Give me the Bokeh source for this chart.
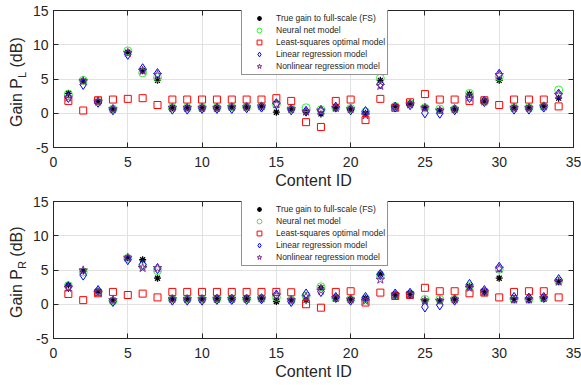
from bokeh.plotting import figure
from bokeh.models import Range1d, FixedTicker, LinearAxis, Legend, LegendItem, Div
from bokeh.layouts import column, row
from bokeh.embed import file_html
from bokeh.resources import INLINE

content_id = list(range(1, 35))
x_ticks = [0, 5, 10, 15, 20, 25, 30, 35]
y_ticks = [-5, 0, 5, 10, 15]
y_tick_labels = {-5: "-5", 0: "0", 5: "5", 10: "10", 15: "15"}

series_names = [
    "True gain to full-scale (FS)",
    "Neural net model",
    "Least-squares optimal model",
    "Linear regression model",
    "Nonlinear regression model",
]

# ---- Gain P_L (top) ----
true_L = [2.9, 4.7, 1.7, 0.6, 8.9, 6.2, 4.8, 0.8, 0.8, 0.8, 0.8, 0.9, 0.9, 1.0, 0.15, 0.6, 0.15,
          -0.1, 0.8, 0.6, 0.0, 4.8, 1.0, 1.35, 0.8, 0.4, 0.6, 2.8, 1.8, 4.8, 0.8, 0.8, 1.0, 2.2]
neural_L = [2.8, 4.8, 1.8, 0.6, 9.1, 5.9, 5.2, 0.8, 0.8, 0.8, 0.8, 0.9, 0.9, 1.0, 1.3, 0.7, 0.8,
            0.5, 0.8, 0.7, 0.2, 5.1, 1.0, 1.4, 0.8, 0.6, 0.6, 2.9, 1.8, 5.3, 0.8, 0.8, 1.0, 3.4]
ls_L = [1.8, 0.4, 1.9, 2.0, 2.1, 2.2, 1.2, 2.0, 2.0, 2.0, 2.0, 2.0, 2.0, 2.0, 2.2, 1.8, -1.3,
        -2.0, 1.8, 2.0, -1.0, 2.1, 0.8, 1.6, 2.8, 2.0, 2.0, 1.8, 1.9, 1.2, 2.0, 2.0, 2.0, 1.0]
lin_L = [2.3, 4.2, 1.6, 0.5, 8.6, 6.5, 5.8, 0.6, 0.6, 0.7, 0.7, 0.7, 0.8, 0.9, 1.4, 0.5, 0.3,
         0.4, 0.9, 0.5, 0.25, 4.3, 0.9, 1.25, 0.05, 0.0, 0.5, 2.3, 1.7, 5.7, 0.6, 0.6, 0.9, 2.8]
nonlin_L = [2.3, 4.7, 1.7, 0.6, 8.8, 6.2, 5.6, 0.8, 0.8, 0.8, 0.8, 0.9, 0.9, 1.0, 1.3, 0.6, 0.25,
            0.4, 0.8, 0.6, -0.3, 4.0, 0.9, 1.3, 0.8, 0.4, 0.6, 2.3, 1.7, 5.6, 0.8, 0.8, 1.0, 2.7]

# ---- Gain P_R (bottom) ----
true_R = [2.8, 4.85, 1.9, 0.6, 6.8, 6.5, 3.8, 0.75, 0.75, 0.75, 0.8, 0.8, 0.8, 0.85, 0.4, 0.6, 0.6,
          2.4, 0.9, 0.7, 0.9, 4.4, 1.35, 1.45, 0.5, 0.5, 0.7, 2.6, 1.8, 3.8, 0.7, 0.7, 0.9, 3.3]
neural_R = [2.7, 4.7, 1.8, 0.5, 6.7, 5.6, 4.9, 0.75, 0.75, 0.75, 0.8, 0.8, 0.8, 0.85, 1.0, 0.6, 1.2,
            2.55, 0.9, 0.7, 0.8, 4.2, 1.35, 1.5, 0.7, 0.7, 0.7, 2.6, 1.8, 5.1, 0.7, 0.7, 0.9, 3.4]
ls_R = [1.5, 0.6, 1.6, 1.8, 1.35, 1.55, 1.0, 1.8, 1.8, 1.8, 1.8, 1.8, 1.8, 1.8, 1.8, 1.75, 0.0,
        -0.5, 1.8, 1.9, 0.25, 1.7, 1.2, 1.35, 2.4, 1.9, 1.9, 1.6, 1.7, 1.0, 1.8, 1.9, 1.9, 1.0]
lin_R = [2.55, 4.25, 2.0, 0.4, 6.5, 5.8, 5.2, 0.6, 0.6, 0.6, 0.7, 0.7, 0.7, 0.8, 1.35, 0.4, 1.5,
         1.85, 1.0, 0.6, 1.0, 4.35, 1.5, 1.6, -0.4, -0.1, 0.6, 2.9, 2.0, 5.4, 1.0, 0.9, 1.0, 3.6]
nonlin_R = [2.4, 4.95, 1.7, 0.6, 6.8, 5.3, 5.3, 0.75, 0.75, 0.75, 0.8, 0.8, 0.8, 0.85, 1.3, 0.6, 1.1,
            2.0, 0.9, 0.7, 0.5, 3.6, 1.35, 1.45, 0.5, 0.5, 0.7, 2.4, 1.8, 5.2, 0.7, 0.7, 0.9, 3.3]

AX = "#262626"
FONT = "Liberation Sans"
LABEL_W = 28


def style_axis(ax, show_labels=True):
    ax.axis_line_color = AX
    ax.major_tick_line_color = AX
    ax.major_tick_in = 5
    ax.major_tick_out = 0
    ax.minor_tick_line_color = None
    ax.major_label_text_color = AX
    ax.major_label_text_font = FONT
    ax.major_label_text_font_size = "14px" if show_labels else "0px"


def make_ylabel(height, top_border, sub):
    # rotated y-axis title "Gain P_sub (dB)" in a narrow strip left of the plot
    start = top_border + 117
    html = (
        f'<div style="position:absolute; left:8.5px; top:{start}px; '
        f'transform:rotate(-90deg); transform-origin:left top; white-space:nowrap; '
        f'font-family:\'{FONT}\'; font-size:16px; line-height:16px; color:{AX};">'
        f'Gain P<span style="font-size:11px; position:relative; top:4px;">{sub}</span> (dB)</div>'
    )
    return Div(text=html, width=LABEL_W, height=height, margin=0,
               styles={"overflow": "visible", "position": "relative"})


def make_panel(height, top_border, bottom_border, series):
    p = figure(width=581 - LABEL_W, height=height, x_range=Range1d(0, 35), y_range=Range1d(-5, 15),
               output_backend="svg", toolbar_location=None,
               min_border_left=53 - LABEL_W, min_border_right=8,
               min_border_top=top_border, min_border_bottom=bottom_border)
    p.background_fill_color = "white"
    p.border_fill_color = "white"
    p.outline_line_color = AX
    p.outline_line_width = 1

    p.xaxis.ticker = FixedTicker(ticks=x_ticks)
    p.yaxis.ticker = FixedTicker(ticks=y_ticks)
    p.yaxis.major_label_overrides = y_tick_labels
    for ax in p.xaxis + p.yaxis:
        style_axis(ax)
    p.xaxis.major_label_standoff = 9
    p.yaxis.major_label_standoff = 5
    p.xaxis.axis_label = "Content ID"
    p.xaxis.axis_label_text_font = FONT
    p.xaxis.axis_label_text_font_size = "16px"
    p.xaxis.axis_label_text_font_style = "normal"
    p.xaxis.axis_label_text_color = AX
    p.xaxis.axis_label_standoff = 2

    ax_r = LinearAxis(ticker=FixedTicker(ticks=y_ticks),
                      major_label_overrides={t: "" for t in y_ticks}, major_label_standoff=0)
    style_axis(ax_r, False)
    p.add_layout(ax_r, "right")
    ax_t = LinearAxis(ticker=FixedTicker(ticks=x_ticks),
                      major_label_overrides={t: "" for t in x_ticks}, major_label_standoff=0)
    style_axis(ax_t, False)
    p.add_layout(ax_t, "above")

    p.grid.grid_line_color = "#e2e2e2"
    p.grid.grid_line_width = 1
    p.xgrid.ticker = FixedTicker(ticks=x_ticks)
    p.ygrid.ticker = FixedTicker(ticks=y_ticks)

    t, nn, ls, lin, nl = series
    r1 = p.scatter(content_id, t, marker="asterisk", size=7, line_color="black", line_width=1.3)
    r2 = p.scatter(content_id, nn, marker="circle", size=8, fill_color=None,
                   line_color="#22ee22", line_width=0.9)
    r3 = p.scatter(content_id, ls, marker="square", size=7, fill_color=None,
                   line_color="#ff0000", line_width=1)
    r4 = p.scatter(content_id, lin, marker="diamond", size=10, fill_color=None,
                   line_color="#0000ff", line_width=1)
    r5 = p.scatter(content_id, nl, marker="star", size=9, fill_color=None,
                   line_color="#7e2f8e", line_width=1)

    items = [LegendItem(label=n, renderers=[r]) for n, r in zip(series_names, [r1, r2, r3, r4, r5])]
    legend = Legend(items=items, location=(188, 72), padding=2, spacing=0,
                    glyph_width=30, glyph_height=12, label_height=12, label_standoff=2,
                    label_text_font=FONT, label_text_font_size="8.5px", label_text_color=AX,
                    border_line_color=AX, border_line_width=1, background_fill_color="white",
                    background_fill_alpha=1, margin=0)
    p.add_layout(legend)
    return p


p1 = make_panel(193, 10, 46, (true_L, neural_L, ls_L, lin_L, nonlin_L))
q1 = make_ylabel(193, 10, "L")
p2 = make_panel(192, 8, 47, (true_R, neural_R, ls_R, lin_R, nonlin_R))
q2 = make_ylabel(192, 8, "R")

layout = column(row(q1, p1, spacing=0), row(q2, p2, spacing=0), spacing=0)
open("out.html", "w").write(file_html(layout, INLINE))
